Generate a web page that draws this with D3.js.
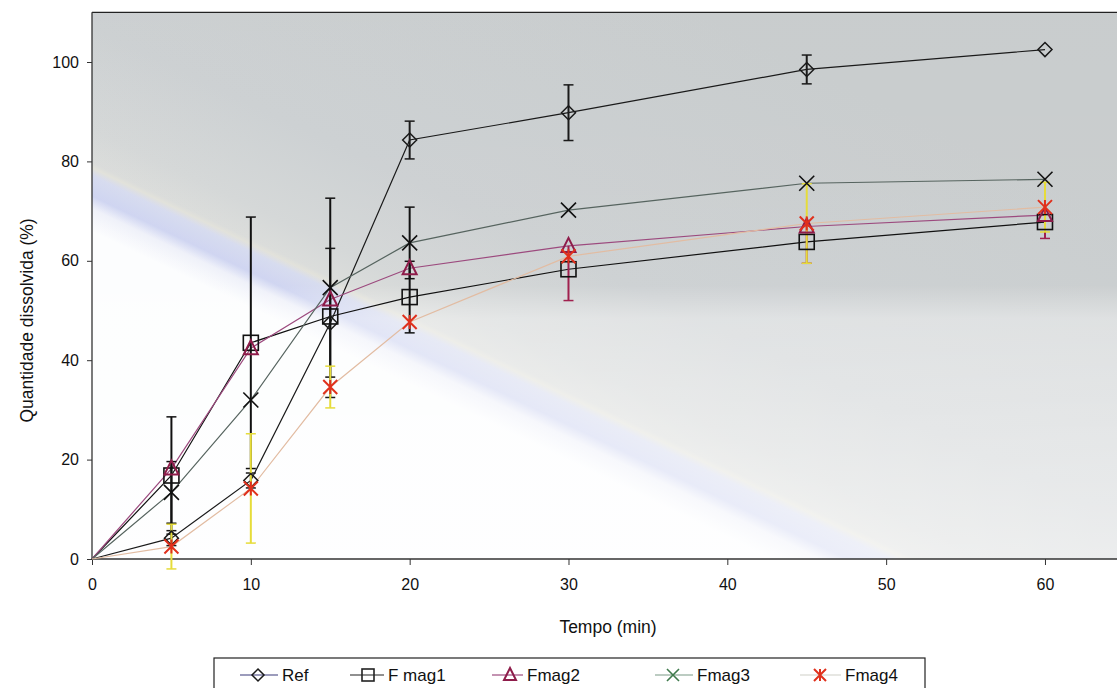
<!DOCTYPE html>
<html>
<head>
<meta charset="utf-8">
<script src="https://cdn.jsdelivr.net/npm/d3@7"></script>
<style>
  body { margin: 0; background: #fff; }
  svg { display: block; font-family: "Liberation Sans", Arial, sans-serif; }
</style>
</head>
<body>
<div id="chart"></div>
<script>
// data
const times = [0, 5, 10, 15, 20, 30, 45, 60];
const refVals   = [0, 4.2, 15.8, 47.5, 84.3, 89.8, 98.5, 102.5];
const fmag1Vals = [0, 16.8, 43.5, 48.8, 52.7, 58.3, 63.8, 67.8];
const fmag2Vals = [0, 18.2, 42.4, 52.2, 58.5, 63.0, 66.9, 69.2];
const fmag3Vals = [0, 13.4, 32.0, 54.6, 63.6, 70.2, 75.6, 76.4];
const fmag4Vals = [0, 2.5, 14.2, 34.6, 47.7, 60.9, 67.5, 70.8];

const refErr   = [0, 1.5, 1.5, 15, 3.8, 5.6, 2.9, 0];
const fmag1Err = [0, 11.8, 25.3, 0, 7.2, 0, 0, 0];
const fmag2Err = [0, 0, 0, 0, 0, 11, 7.4, 4.7];
const fmag3Err = [0, 6.2, 0, 18, 7.2, 0, 0, 0];
const fmag4Err = [0, 4.5, 11, 4.2, 0, 0, 8, 5];

const seriesNames = ["Ref", "F mag1", "Fmag2", "Fmag3", "Fmag4"];
const yTicks = [0, 20, 40, 60, 80, 100];
const xTicks = [0, 10, 20, 30, 40, 50, 60];

const series = [
  {name: seriesNames[0], vals: refVals,   err: refErr,   dir: "both",  line: "#1a1a1a", mark: "#1a1a1a", errC: "#1a1a1a", legLine: "#3a3a7a", legMark: "#1a1a1a", shape: "diamond"},
  {name: seriesNames[1], vals: fmag1Vals, err: fmag1Err, dir: "both",  line: "#111",    mark: "#111",    errC: "#111",    legLine: "#222",    legMark: "#222",    shape: "square"},
  {name: seriesNames[2], vals: fmag2Vals, err: fmag2Err, dir: "minus", line: "#9c4a7e", mark: "#8e1c4a", errC: "#a0204e", legLine: "#9c4a7e", legMark: "#8e1c4a", shape: "triangle"},
  {name: seriesNames[3], vals: fmag3Vals, err: fmag3Err, dir: "both",  line: "#56645f", mark: "#111",    errC: "#111",    legLine: "#7a9a86", legMark: "#3f7a4c", shape: "x"},
  {name: seriesNames[4], vals: fmag4Vals, err: fmag4Err, dir: "both",  line: "#e2bca2", mark: "#e0301c", errC: "#e6dc3a", legLine: "#cfcfc8", legMark: "#e0301c", shape: "star"}
];

const W = 1117, H = 688;
const svg = d3.select("#chart").append("svg").attr("width", W).attr("height", H);

const x = d3.scaleLinear().domain([0, 65]).range([92, 92 + 65 * 15.883]);
const y = d3.scaleLinear().domain([0, 110]).range([559, 12.3]);

// scanned paper background of the plot area
const defs = svg.append("defs");
const bandGrad = defs.append("linearGradient").attr("id", "band")
  .attr("gradientUnits", "userSpaceOnUse")
  .attr("x1", 265).attr("y1", -195)
  .attr("x2", 66).attr("y2", 219);
[[0, "#c6cacb"], [0.6, "#caced0"], [0.8, "#d2d5d5"], [0.865, "#d8dad8"], [0.875, "#e0e0d8"], [0.89, "#d4d9ee"], [0.93, "#ccd2f0"], [0.955, "#eef0f9"], [1, "#fcfdfe"]]
  .forEach(s => bandGrad.append("stop").attr("offset", s[0]).attr("stop-color", s[1]));
const fadeGrad = defs.append("linearGradient").attr("id", "fade")
  .attr("x1", 0).attr("y1", 0).attr("x2", 0).attr("y2", 1);
[[0, "#fff", 0.05], [0.5, "#fff", 0.08], [0.56, "#fff", 0.42], [1, "#fff", 0.62]]
  .forEach(s => fadeGrad.append("stop").attr("offset", s[0]).attr("stop-color", s[1]).attr("stop-opacity", s[2]));

svg.append("rect").attr("x", x(0)).attr("y", y(110)).attr("width", W - x(0)).attr("height", y(0) - y(110)).attr("fill", "url(#band)");
svg.append("rect").attr("x", x(0)).attr("y", y(110)).attr("width", W - x(0)).attr("height", y(0) - y(110)).attr("fill", "url(#fade)");

// frame top line
svg.append("line").attr("x1", x(0)).attr("x2", W).attr("y1", y(110)).attr("y2", y(110)).attr("stroke", "#222").attr("stroke-width", 1.3);

// axes
const yAxis = svg.append("g").attr("transform", `translate(${x(0)},0)`)
  .call(d3.axisLeft(y).tickValues(yTicks).tickSize(5).tickPadding(8));
const xAxis = svg.append("g").attr("transform", `translate(0,${y(0)})`)
  .call(d3.axisBottom(x).tickValues(xTicks).tickSize(6).tickPadding(14));
[yAxis, xAxis].forEach(a => {
  a.select(".domain").attr("stroke", "#333").attr("stroke-width", 1.3);
  a.selectAll(".tick line").attr("stroke", "#333");
  a.selectAll("text").attr("fill", "#111").style("font-size", "16px").style("font-family", "'Liberation Sans', Arial, sans-serif");
});
yAxis.select(".domain").attr("d", `M0,${y(0)}V${y(110)}`);
xAxis.select(".domain").attr("d", `M${x(0)},0H${W}`);

svg.append("text").attr("x", 608).attr("y", 633).attr("text-anchor", "middle")
  .style("font-size", "17.5px").attr("fill", "#111").text("Tempo (min)");
svg.append("text").attr("transform", `translate(33,${y(48)}) rotate(-90)`).attr("text-anchor", "middle")
  .style("font-size", "17.5px").attr("fill", "#111").text("Quantidade dissolvida (%)");

function drawMarker(g, shape, cx, cy, color, s) {
  if (shape === "diamond") {
    g.append("path").attr("d", `M${cx},${cy - s}L${cx + s},${cy}L${cx},${cy + s}L${cx - s},${cy}Z`)
      .attr("fill", "none").attr("stroke", color).attr("stroke-width", 1.5);
  } else if (shape === "square") {
    g.append("rect").attr("x", cx - s).attr("y", cy - s).attr("width", 2 * s).attr("height", 2 * s)
      .attr("fill", "none").attr("stroke", color).attr("stroke-width", 1.6);
  } else if (shape === "triangle") {
    g.append("path").attr("d", `M${cx},${cy - s - 1}L${cx + s},${cy + s - 1}L${cx - s},${cy + s - 1}Z`)
      .attr("fill", "none").attr("stroke", color).attr("stroke-width", 2);
  } else if (shape === "x") {
    g.append("path").attr("d", `M${cx - s},${cy - s}L${cx + s},${cy + s}M${cx + s},${cy - s}L${cx - s},${cy + s}`)
      .attr("stroke", color).attr("stroke-width", 1.6);
  } else if (shape === "star") {
    g.append("path").attr("d", `M${cx - s},${cy - s}L${cx + s},${cy + s}M${cx + s},${cy - s}L${cx - s},${cy + s}M${cx},${cy - s}V${cy + s}`)
      .attr("stroke", color).attr("stroke-width", 2);
  }
}

const markSize = {diamond: 7, square: 7.5, triangle: 7, x: 7.5, star: 7};
const plot = svg.append("g");
const line = d3.line().x((d, i) => x(times[i])).y(d => y(d));

// lines
series.forEach(s => {
  plot.append("path").datum(s.vals).attr("d", line)
    .attr("fill", "none").attr("stroke", s.line).attr("stroke-width", 1.2);
});
// error bars
series.forEach(s => {
  const eg = plot.append("g");
  s.vals.forEach((v, i) => {
    const e = s.err[i];
    if (!e) return;
    const cx = x(times[i]);
    const lo = v - e, hi = s.dir === "minus" ? v : v + e;
    eg.append("line").attr("x1", cx).attr("x2", cx).attr("y1", y(lo)).attr("y2", y(hi))
      .attr("stroke", s.errC).attr("stroke-width", 2);
    const caps = s.dir === "minus" ? [lo] : [lo, hi];
    caps.forEach(t => eg.append("line").attr("x1", cx - 5).attr("x2", cx + 5)
      .attr("y1", y(t)).attr("y2", y(t)).attr("stroke", s.errC).attr("stroke-width", 1.5));
  });
});
// markers
series.forEach(s => {
  const mg = plot.append("g");
  s.vals.forEach((v, i) => {
    if (i === 0) return;
    drawMarker(mg, s.shape, x(times[i]), y(v), s.mark, markSize[s.shape]);
  });
});

// legend
const leg = svg.append("g");
leg.append("rect").attr("x", 214).attr("y", 658).attr("width", 711).attr("height", 40)
  .attr("fill", "#fff").attr("stroke", "#222").attr("stroke-width", 1.2);
const legLineX = [240, 350, 492, 655, 800];
const legMarkX = [258, 368, 510, 673, 820];
const legTextX = [282, 388, 527, 697, 845];
series.forEach((s, i) => {
  leg.append("line").attr("x1", legLineX[i]).attr("x2", legTextX[i] - 4).attr("y1", 675).attr("y2", 675)
    .attr("stroke", s.legLine).attr("stroke-width", 1.2);
  drawMarker(leg, s.shape, legMarkX[i], 675, s.legMark, 6);
  leg.append("text").attr("x", legTextX[i]).attr("y", 681).style("font-size", "17px").attr("fill", "#111").text(s.name);
});
</script>
</body>
</html>
